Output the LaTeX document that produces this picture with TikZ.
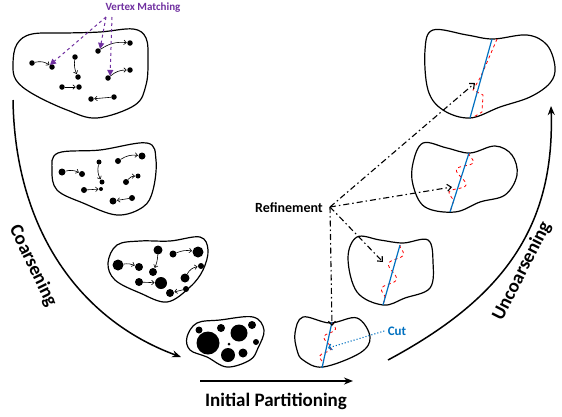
\documentclass[tikz,border=0pt]{standalone}
\usepackage{fontspec}
\setmainfont{Carlito}
\usetikzlibrary{arrows.meta,decorations.pathmorphing}
\definecolor{vmpurple}{RGB}{112,48,160}
\definecolor{cutblue}{RGB}{0,112,192}
\begin{document}
\begin{tikzpicture}[x=1pt,y=-1pt,
  blob/.style={draw,line width=1.2pt},
  vd/.style={circle,fill,inner sep=0pt,minimum size=#1},
  ma/.style={-{Straight Barb[length=2.5pt,width=4.5pt]},line width=0.6pt,shorten >=0.3pt},
  vmarrow/.style={vmpurple,dashed,line width=1pt,-{Triangle[length=6pt,width=6pt]}},
  refarrow/.style={line width=1.1pt,dash pattern=on 6pt off 3pt on 1.5pt off 3pt,-{Straight Barb[length=4pt,width=7pt]}},
  bigarrow/.style={line width=1.5pt,-{Stealth[length=9pt,width=7pt]}},
  cutline/.style={cutblue,line width=1.2pt},
  wig/.style={red,dashed,line width=0.8pt},
  bigtext/.style={font=\fontsize{19}{22}\selectfont\bfseries}]
\useasboundingbox (0,0) rectangle (562,416);

% ---------- blob 1 ----------
\draw[blob] plot[smooth cycle,tension=0.6] coordinates {(13,63) (17,44) (32,34) (67,33) (100,32) (133,29) (146,38) (148,60) (146,85) (135,105) (97,118) (67,110) (33,94) (16,80)};
\node[vd=5.5] (a1) at (32,63) {}; \node[vd=5.5] (a2) at (52,67) {};
\node[vd=5.5] (b1) at (75,57) {}; \node[vd=5.5] (b2) at (78,77) {};
\node[vd=5.5] (c1) at (98,51) {}; \node[vd=5.5] (c2) at (130,43) {};
\node[vd=5.5] (d1) at (108,78) {}; \node[vd=5.5] (d2) at (130,70) {};
\node[vd=5.5] (e1) at (62,87) {}; \node[vd=5.5] (e2) at (79,87) {};
\node[vd=5.5] (f1) at (114,97) {}; \node[vd=5.5] (f2) at (91,99) {};
\draw[ma] (a1) to[bend left=25] (a2);
\draw[ma] (b1) to[bend right=15] (b2);
\draw[ma] (c1) to[bend left=20] (c2);
\draw[ma] (d1) to[bend left=20] (d2);
\draw[ma] (e1) -- (e2);
\draw[ma] (f1) -- (f2);

% Vertex matching label
\node[font=\fontsize{11}{13}\selectfont\bfseries,text=vmpurple] (vm) at (143,8) {Vertex Matching};
\coordinate (vm1) at (106,17);
\coordinate (vm2) at (112,17);
\draw[vmarrow] (vm1) -- (a2.north west);
\draw[vmarrow] (vm1) -- (c1.north east);
\draw[vmarrow] (vm2) -- (d1.north east);

% ---------- blob 2 ----------
\draw[blob] plot[smooth cycle,tension=0.6] coordinates {(52,170) (58,153) (100,150) (147,143) (156,160) (153,190) (143,207) (117,215) (83,203) (57,190)};
\node[vd=7] (g1) at (62,172) {}; \node[vd=6] (g2) at (82,174) {};
\node[vd=5] (h1) at (99,162) {}; \node[vd=5] (h2) at (102,182) {};
\node[vd=6] (i1) at (118,161) {}; \node[vd=7] (i2) at (142,156) {};
\node[vd=6] (j1) at (126,182) {}; \node[vd=5] (j2) at (138,176) {};
\node[vd=6] (k1) at (84,190) {}; \node[vd=4] (k2) at (101,189) {};
\node[vd=6] (l1) at (132,198) {}; \node[vd=7] (l2) at (113,201) {};
\draw[ma] (g1) to[bend left=20] (g2);
\draw[ma] (h1) to[bend right=20] (h2);
\draw[ma] (i1) to[bend left=20] (i2);
\draw[ma] (j1) to[bend left=25] (j2);
\draw[ma] (k1) -- (k2);
\draw[ma] (l1) -- (l2);

% ---------- blob 3 ----------
\draw[blob] plot[smooth cycle,tension=0.6] coordinates {(108,263) (117,245) (140,241) (170,241) (200,237) (208,250) (203,270) (190,287) (167,302) (140,293) (115,280)};
\node[vd=11] (m1) at (118,265) {}; \node[vd=8] (m2) at (139,267) {};
\node[vd=9] (n1) at (158,250) {}; \node[vd=8] (n2) at (153,272) {};
\node[vd=7] (o1) at (173,254) {}; \node[vd=11] (o2) at (198,252) {};
\node[vd=8] (p1) at (139,282) {}; \node[vd=12] (p2) at (161,283) {};
\node[vd=9] (q1) at (185,278) {}; \node[vd=6] (q2) at (201,266) {};
\node[vd=6] (r1) at (186,289) {}; \node[vd=8] (r2) at (170,293) {};
\draw[ma] (m1) to[bend left=15] (m2);
\draw[ma] (n1) to[bend left=10] (n2);
\draw[ma] (o1) to[bend left=15] (o2);
\draw[ma] (p1) -- (p2);
\draw[ma] (q1) to[bend left=25] (q2);
\draw[ma] (r1) -- (r2);

% ---------- blob 4 (coarsest) ----------
\draw[blob] plot[smooth cycle,tension=0.6] coordinates {(187,337) (197,323) (220,320) (253,317) (264,330) (258,348) (250,360) (227,367) (207,357) (190,350)};
\node[vd=23] (s1) at (208,343) {};
\node[vd=17] (s2) at (239,333) {};
\node[vd=14] (s3) at (228,355) {};
\node[vd=8] (s4) at (252,325) {};
\node[vd=9] (s5) at (243,353) {};
\node[vd=7] (s6) at (199,330) {};
\node[vd=8] (s7) at (221,328) {};
\node[vd=6] (s8) at (256,342) {};
\node[vd=3] (s9) at (229,344) {};

% ---------- blob 5 (initial partition) ----------
\draw[blob] plot[smooth cycle,tension=0.6] coordinates {(295,333) (303,317) (330,323) (357,318) (370,337) (360,353) (323,367) (303,360) (297,350)};
\coordinate (c5t) at (332,322); \coordinate (c5b) at (322,368);
\draw[wig,decorate,decoration={snake,amplitude=5pt,segment length=20pt}] (c5t) -- (c5b);
\draw[cutline] (c5t) -- (c5b);

% ---------- blob 6 ----------
\draw[blob] plot[smooth cycle,tension=0.6] coordinates {(348,258) (357,237) (380,240) (403,243) (428,240) (433,262) (430,288) (405,298) (383,305) (357,292)};
\coordinate (c6t) at (400,245); \coordinate (c6b) at (383,305);
\draw[wig,decorate,decoration={snake,amplitude=6pt,segment length=26pt}] (c6t) -- (c6b);
\draw[cutline] (c6t) -- (c6b);

% ---------- blob 7 ----------
\draw[blob] plot[smooth cycle,tension=0.6] coordinates {(413,163) (423,143) (447,148) (470,153) (495,146) (512,155) (517,175) (505,195) (480,202) (455,212) (425,207) (413,185)};
\coordinate (c7t) at (469,153); \coordinate (c7b) at (450,212);
\draw[wig,decorate,decoration={snake,amplitude=7pt,segment length=24pt}] (c7t) -- (c7b);
\draw[cutline] (c7t) -- (c7b);

% ---------- blob 8 ----------
\draw[blob] plot[smooth cycle,tension=0.6] coordinates {(425,50) (433,30) (467,35) (493,39) (527,35) (547,45) (555,67) (550,83) (530,97) (500,107) (470,118) (443,110) (428,90)};
\coordinate (c8t) at (492,39); \coordinate (c8b) at (470,118);
\draw[wig] (497,39) -- (485,67) -- (480,78) -- (473,90) -- (483,95) -- (482,112) -- (472,118);
\draw[cutline] (c8t) -- (c8b);

% ---------- refinement ----------
\node[font=\fontsize{14}{16}\selectfont\bfseries] (ref) at (289,208) {Refinement};
\coordinate (rf) at (330,207);
\coordinate (t8) at (475,83);
\coordinate (t7) at (452,187);
\coordinate (t6) at (383,262);
\coordinate (t5) at (332,326);
\draw[refarrow] (rf) -- (t8);
\draw[refarrow] (rf) -- (t7);
\draw[refarrow] (rf) -- (t6);
\draw[refarrow] (rf) -- (t5);

% ---------- cut label ----------
\node[font=\fontsize{13}{15}\selectfont\bfseries,text=cutblue] (cut) at (397,331) {Cut};
\coordinate (cutpt) at (328,348);
\draw[cutblue,dotted,line width=1.1pt,-{Straight Barb[length=3pt,width=6pt]}] (cut.west) -- (cutpt);

% ---------- big arrows ----------
\coordinate (cs) at (13,100); \coordinate (ce) at (181,357);
\draw[bigarrow] (cs) .. controls (15,230) and (80,320) .. (ce);
\node[bigtext,rotate=-64] (coarse) at (33,266) {Coarsening};

\coordinate (ps) at (200,381); \coordinate (pe) at (353,381);
\draw[bigarrow] (ps) -- (pe);
\node[bigtext] (ip) at (276,401) {Initial Partitioning};

\coordinate (us) at (388,360); \coordinate (ue) at (551,106);
\draw[bigarrow] (us) .. controls (500,300) and (555,230) .. (ue);
\node[bigtext,rotate=63] (unc) at (522,271) {Uncoarsening};
\end{tikzpicture}
\end{document}
